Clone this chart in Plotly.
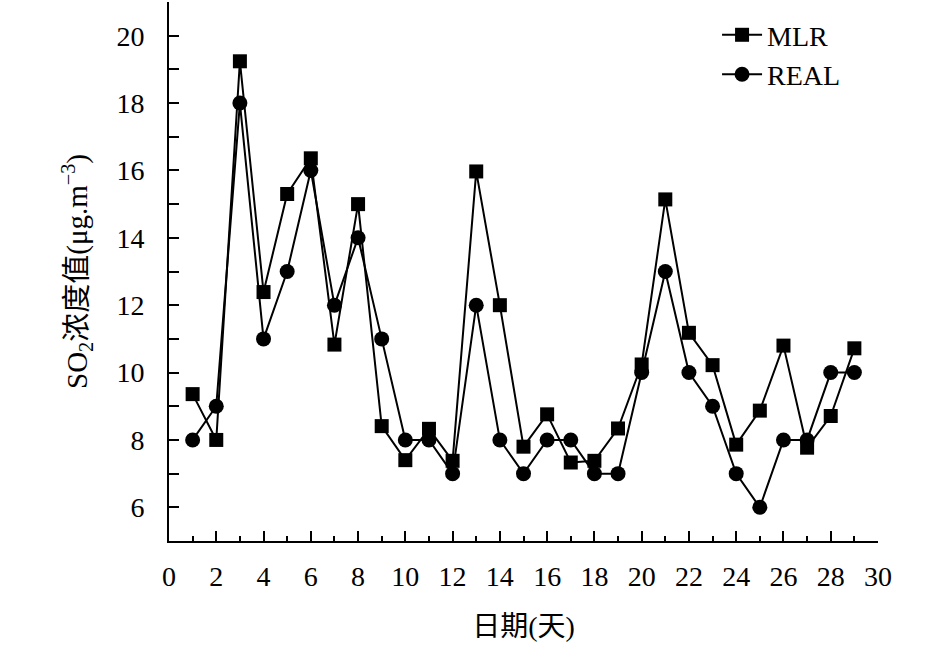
import plotly.graph_objects as go

days = list(range(1, 30))
mlr = [9.36, 8.0, 19.24, 12.39, 15.30, 16.36, 10.83, 15.0, 8.41, 7.40,
       8.33, 7.38, 15.97, 12.0, 7.80, 8.76, 7.33, 7.38, 8.34, 10.24,
       15.14, 11.18, 10.22, 7.86, 8.87, 10.80, 7.77, 8.71, 10.72]
real = [8, 9, 18, 11, 13, 16, 12, 14, 11, 8,
        8, 7, 12, 8, 7, 8, 8, 7, 7, 10,
        13, 10, 9, 7, 6, 8, 8, 10, 10]

x_ticks = list(range(0, 31, 2))
y_ticks = list(range(6, 21, 2))

FONT = "Liberation Serif, Times New Roman, Noto Sans CJK SC, serif"

fig = go.Figure()
fig.add_trace(go.Scatter(x=days, y=mlr, mode="lines+markers", name="MLR",
                         line=dict(color="black", width=2),
                         marker=dict(symbol="square", size=14, color="black")))
fig.add_trace(go.Scatter(x=days, y=real, mode="lines+markers", name="REAL",
                         line=dict(color="black", width=2),
                         marker=dict(symbol="circle", size=15, color="black")))

fig.update_layout(
    width=945, height=651,
    margin=dict(l=169, r=67, t=2, b=110),
    paper_bgcolor="white", plot_bgcolor="white",
    font=dict(family=FONT, size=28, color="black"),
    showlegend=True,
    legend=dict(x=0.773, y=0.985, xanchor="left", yanchor="top",
                bgcolor="rgba(0,0,0,0)", font=dict(size=28, family=FONT),
                tracegroupgap=0, itemwidth=40),
    xaxis=dict(range=[0, 30], tickvals=x_ticks, ticktext=[str(v) for v in x_ticks],
               showline=True, linecolor="black", linewidth=2, mirror=False,
               ticks="inside", ticklen=10, tickwidth=2, tickcolor="black",
               minor=dict(dtick=1, ticks="inside", ticklen=5, tickwidth=2, tickcolor="black"),
               showgrid=False, zeroline=False, ticklabelstandoff=9,
               title=dict(text="日期(天)", font=dict(size=28, family=FONT), standoff=26)),
    yaxis=dict(range=[5, 21], tickvals=y_ticks, ticktext=[str(v) for v in y_ticks],
               showline=True, linecolor="black", linewidth=2, mirror=False,
               ticks="inside", ticklen=10, tickwidth=2, tickcolor="black",
               minor=dict(dtick=1, ticks="inside", ticklen=10, tickwidth=2, tickcolor="black"),
               showgrid=False, zeroline=False, ticklabelstandoff=17,
               title=dict(text="SO<sub>2</sub>浓度值(μg.m<sup>−3</sup>)",
                          font=dict(size=29, family=FONT), standoff=20)),
)

fig.write_html("out.html", config={"displayModeBar": False},
               post_script="document.body.style.margin='0';")
